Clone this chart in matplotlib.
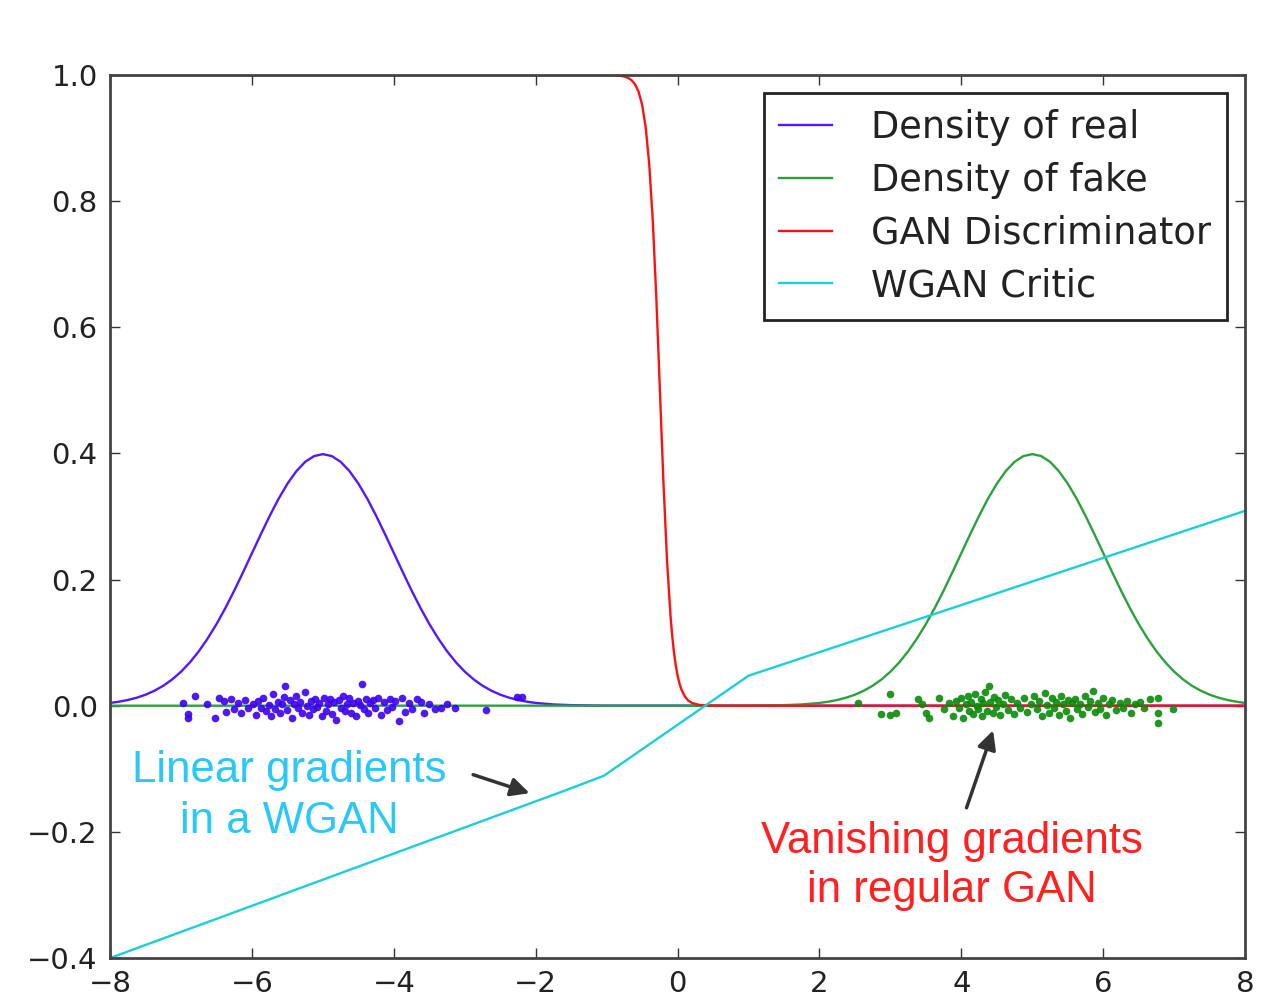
import numpy as np
import matplotlib.pyplot as plt

# density of the real samples, N(-5, 1)
real_x = [-8.0, -7.875, -7.75, -7.625, -7.5, -7.375, -7.25, -7.125, -7.0, -6.875, -6.75, -6.625,
          -6.5, -6.375, -6.25, -6.125, -6.0, -5.875, -5.75, -5.625, -5.5, -5.375, -5.25, -5.125,
          -5.0, -4.875, -4.75, -4.625, -4.5, -4.375, -4.25, -4.125, -4.0, -3.875, -3.75, -3.625,
          -3.5, -3.375, -3.25, -3.125, -3.0, -2.875, -2.75, -2.625, -2.5, -2.375, -2.25, -2.125,
          -2.0, -1.75, -1.5, -1.25, -1.0, 8.0]
real_y = [0.0044, 0.0064, 0.0091, 0.0127, 0.0175, 0.0238, 0.0317, 0.0417, 0.0540, 0.0688, 0.0863, 0.1066,
          0.1295, 0.1550, 0.1826, 0.2119, 0.2420, 0.2720, 0.3011, 0.3282, 0.3521, 0.3718, 0.3867, 0.3958,
          0.3989, 0.3958, 0.3867, 0.3718, 0.3521, 0.3282, 0.3011, 0.2720, 0.2420, 0.2119, 0.1826, 0.1550,
          0.1295, 0.1066, 0.0863, 0.0688, 0.0540, 0.0417, 0.0317, 0.0238, 0.0175, 0.0127, 0.0091, 0.0064,
          0.0044, 0.0020, 0.0009, 0.0004, 0.0001, 0.0]

# density of the fake samples, N(5, 1)
fake_x = [-8.0, 1.0, 1.25, 1.5, 1.75, 2.0, 2.125, 2.25, 2.375, 2.5, 2.625, 2.75, 2.875,
          3.0, 3.125, 3.25, 3.375, 3.5, 3.625, 3.75, 3.875, 4.0, 4.125, 4.25, 4.375,
          4.5, 4.625, 4.75, 4.875, 5.0, 5.125, 5.25, 5.375, 5.5, 5.625, 5.75, 5.875,
          6.0, 6.125, 6.25, 6.375, 6.5, 6.625, 6.75, 6.875, 7.0, 7.125, 7.25, 7.375,
          7.5, 7.625, 7.75, 7.875, 8.0]
fake_y = [0.0, 0.0001, 0.0004, 0.0009, 0.0020, 0.0044, 0.0064, 0.0091, 0.0127, 0.0175, 0.0238, 0.0317, 0.0417,
          0.0540, 0.0688, 0.0863, 0.1066, 0.1295, 0.1550, 0.1826, 0.2119, 0.2420, 0.2720, 0.3011, 0.3282,
          0.3521, 0.3718, 0.3867, 0.3958, 0.3989, 0.3958, 0.3867, 0.3718, 0.3521, 0.3282, 0.3011, 0.2720,
          0.2420, 0.2119, 0.1826, 0.1550, 0.1295, 0.1066, 0.0863, 0.0688, 0.0540, 0.0417, 0.0317, 0.0238,
          0.0175, 0.0127, 0.0091, 0.0064, 0.0044]

# trained GAN discriminator output
disc_x = [-8.0, -1.0, -0.9, -0.8, -0.75, -0.7, -0.65, -0.6, -0.55, -0.5, -0.45, -0.4, -0.35, -0.3,
          -0.25, -0.2, -0.15, -0.1, -0.075, -0.05, -0.025, 0.0, 0.025, 0.05, 0.1, 0.15, 0.2, 0.3,
          0.4, 0.6, 8.0]
disc_y = [1.0, 0.9999, 0.9996, 0.9986, 0.9975, 0.9955, 0.9918, 0.9852, 0.9734, 0.9526, 0.9168, 0.8581,
          0.7685, 0.6457, 0.5, 0.3543, 0.2315, 0.1419, 0.1091, 0.0832, 0.0630, 0.0474, 0.0356, 0.0266,
          0.0148, 0.0082, 0.0045, 0.0014, 0.0004, 0.0, 0.0]

# WGAN critic (piecewise linear)
critic_x = [-8.0, -1.6, -1.04, 1.0, 8.0]
critic_y = [-0.4, -0.135, -0.111, 0.0476, 0.309]

# samples drawn from each distribution
real_pts = [(-6.97, 0.004), (-6.9, -0.013), (-6.9, -0.02), (-6.8, 0.016), (-6.63, 0.003), (-6.52, -0.02),
            (-6.46, 0.012), (-6.4, 0.008), (-6.36, -0.01), (-6.3, 0.011), (-6.26, -0.006), (-6.2, 0.004),
            (-6.15, -0.012), (-6.1, 0.009), (-6.05, -0.004), (-5.99, 0.002), (-5.95, -0.015), (-5.91, 0.007),
            (-5.87, -0.003), (-5.84, 0.012), (-5.8, -0.008), (-5.76, 0.001), (-5.73, -0.016), (-5.7, 0.018),
            (-5.67, -0.005), (-5.64, 0.006), (-5.61, -0.011), (-5.58, 0.003), (-5.55, 0.014), (-5.53, 0.032),
            (-5.5, -0.007), (-5.47, 0.009), (-5.44, -0.019), (-5.41, 0.002), (-5.38, 0.015), (-5.35, -0.004),
            (-5.32, 0.006), (-5.29, -0.012), (-5.26, 0.021), (-5.23, 0.0), (-5.2, -0.014), (-5.17, 0.008),
            (-5.14, -0.006), (-5.11, 0.011), (-5.08, -0.002), (-5.05, 0.005), (-5.02, -0.017), (-4.99, 0.013),
            (-4.96, -0.009), (-4.93, 0.003), (-4.9, 0.01), (-4.87, -0.013), (-4.84, 0.006), (-4.81, -0.022),
            (-4.78, 0.009), (-4.75, -0.003), (-4.72, 0.016), (-4.69, -0.008), (-4.66, 0.002), (-4.63, 0.012),
            (-4.6, -0.011), (-4.57, 0.005), (-4.54, -0.016), (-4.51, 0.008), (-4.48, 0.001), (-4.45, 0.035),
            (-4.42, -0.006), (-4.39, 0.011), (-4.36, -0.012), (-4.33, 0.004), (-4.3, 0.009), (-4.26, -0.004),
            (-4.22, 0.013), (-4.18, -0.014), (-4.14, 0.006), (-4.1, -0.007), (-4.06, 0.01), (-4.02, -0.002),
            (-3.98, 0.007), (-3.93, -0.024), (-3.88, 0.012), (-3.84, -0.01), (-3.79, 0.004), (-3.74, -0.005),
            (-3.68, 0.011), (-3.62, 0.006), (-3.57, -0.012), (-3.5, 0.002), (-3.42, -0.006), (-3.33, -0.004),
            (-3.25, 0.003), (-3.14, -0.003), (-2.7, -0.007), (-2.27, 0.014), (-2.2, 0.014)]

fake_pts = [(2.54, 0.005), (2.86, -0.013), (3.0, 0.019), (3.0, -0.015), (3.08, -0.012), (3.39, 0.011),
            (3.45, 0.002), (3.5, -0.011), (3.55, -0.02), (3.68, 0.012), (3.75, -0.005), (3.82, 0.004),
            (3.88, -0.016), (3.93, 0.008), (3.97, -0.003), (4.0, 0.012), (4.03, -0.019), (4.06, 0.002),
            (4.09, 0.015), (4.11, -0.008), (4.14, 0.006), (4.17, -0.013), (4.19, 0.019), (4.22, 0.0),
            (4.24, -0.005), (4.27, 0.011), (4.29, -0.017), (4.31, 0.004), (4.34, 0.022), (4.36, -0.009),
            (4.39, 0.032), (4.41, 0.006), (4.44, -0.012), (4.46, 0.014), (4.49, -0.002), (4.52, 0.009),
            (4.55, -0.015), (4.58, 0.003), (4.62, 0.017), (4.66, -0.007), (4.7, 0.01), (4.74, -0.013),
            (4.78, 0.005), (4.83, -0.004), (4.88, 0.012), (4.93, -0.01), (4.98, 0.002), (5.02, 0.016),
            (5.06, -0.006), (5.1, 0.008), (5.14, -0.016), (5.18, 0.02), (5.21, 0.001), (5.24, -0.011),
            (5.28, 0.012), (5.31, -0.003), (5.34, 0.006), (5.37, -0.014), (5.4, 0.015), (5.43, 0.003),
            (5.47, -0.009), (5.5, 0.009), (5.53, -0.019), (5.56, 0.004), (5.6, 0.011), (5.63, -0.006),
            (5.67, 0.002), (5.7, -0.013), (5.74, 0.016), (5.78, -0.002), (5.82, 0.008), (5.85, 0.024),
            (5.88, -0.01), (5.92, 0.004), (5.96, -0.005), (6.0, 0.013), (6.04, -0.015), (6.08, 0.002),
            (6.13, 0.009), (6.18, -0.007), (6.23, 0.005), (6.28, -0.003), (6.33, 0.008), (6.39, -0.011),
            (6.45, 0.003), (6.52, 0.006), (6.58, -0.004), (6.66, 0.01), (6.77, 0.013), (6.77, -0.012),
            (6.77, -0.027), (6.98, -0.005)]

fig = plt.figure(figsize=(12.66, 10), dpi=100)
ax = fig.add_axes([0.087, 0.042, 0.8965, 0.883])

ax.plot(real_x, real_y, color='#5218ff', lw=1.7, label='Density of real')
ax.plot(fake_x, fake_y, color='#2aa23c', lw=1.7, label='Density of fake')
ax.plot(disc_x, disc_y, color='#ff1010', lw=1.7, label='GAN Discriminator')
ax.plot(critic_x, critic_y, color='#1ccfd6', lw=1.7, label='WGAN Critic')

rx, ry = zip(*real_pts)
fx, fy = zip(*fake_pts)
ax.plot(rx, ry, 'o', color='#3c00f0', ms=5.5, mew=0, alpha=0.9, zorder=3)
ax.plot(fx, fy, 'o', color='#0a8a0a', ms=5.5, mew=0, alpha=0.9, zorder=3)

ax.set_xlim(-8, 8)
ax.set_ylim(-0.4, 1.0)
ax.set_xticks(np.arange(-8, 9, 2))
ax.set_yticks([-0.4, -0.2, 0.0, 0.2, 0.4, 0.6, 0.8, 1.0])
ax.tick_params(direction='in', length=7, width=1, labelsize=21, pad=9,
               top=True, right=True, colors='#333333', labelcolor='#222222')
for s in ax.spines.values():
    s.set_linewidth(2)
    s.set_color('#444444')

leg = ax.legend(loc='upper right', fontsize=26.5, fancybox=False, framealpha=1,
                edgecolor='#222222', handlelength=1.45, handletextpad=1.05,
                borderpad=0.42, labelspacing=0.43, borderaxespad=0.5)
leg.get_frame().set_linewidth(2)
for t in leg.get_texts():
    t.set_color('#222222')

# annotations
ax.text(-5.47, -0.143, 'Linear gradients\nin a WGAN', color='#29c8f8', fontsize=31.5,
        family='Liberation Sans', ha='center', va='center', linespacing=1.3)
ax.annotate('', xy=(-2.05, -0.14), xytext=(-2.92, -0.108),
            arrowprops=dict(arrowstyle='-|>', color='#333333', lw=2.5, mutation_scale=28))

ax.text(3.86, -0.254, 'Vanishing gradients\nin regular GAN', color='#ff2020', fontsize=31.5,
        family='Liberation Sans', ha='center', va='center', linespacing=1.25)
ax.annotate('', xy=(4.46, -0.035), xytext=(4.06, -0.166),
            arrowprops=dict(arrowstyle='-|>', color='#333333', lw=2.5, mutation_scale=28))

fig.savefig('out.png', dpi=100)
